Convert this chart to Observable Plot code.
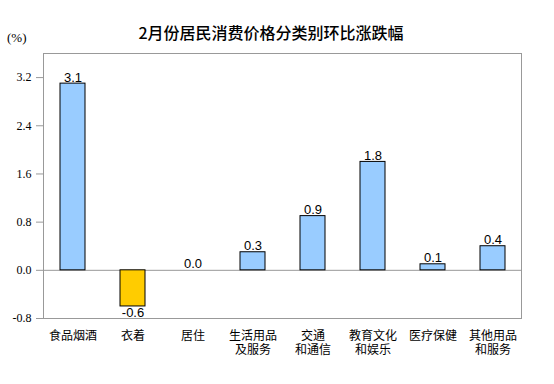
<!DOCTYPE html>
<html><head><meta charset="utf-8">
<script src="https://cdn.jsdelivr.net/npm/d3@7"></script>
<script src="https://cdn.jsdelivr.net/npm/@observablehq/plot@0.6"></script>
<style>
body{margin:0;background:#fff;}
#wrap{position:relative;width:554px;height:384px;}
#title{position:absolute;left:0;width:542px;top:20px;line-height:18px;text-align:center;font:500 16px "Noto Sans CJK SC",sans-serif;color:#000;}
#unit{position:absolute;left:7px;top:30px;line-height:15px;font:13px "Liberation Serif",serif;}
</style></head>
<body><div id="wrap"><div id="title">2月份居民消费价格分类别环比涨跌幅</div><div id="unit">(%)</div></div>
<script>
const categories = ["食品烟酒","衣着","居住","生活用品\n及服务","交通\n和通信","教育文化\n和娱乐","医疗保健","其他用品\n和服务"];
const values = [3.1,-0.6,0.0,0.3,0.9,1.8,0.1,0.4];
const yTicks = [-0.8,0.0,0.8,1.6,2.4,3.2];
const data = categories.map((c,i)=>({c, v: values[i]}));
const chart = Plot.plot({
  width:554, height:384,
  marginLeft:43, marginRight:33, marginTop:53, marginBottom:66,
  style:{fontFamily:"'Noto Sans CJK SC', sans-serif", fontSize:"12px", background:"#fff"},
  x:{domain:categories, paddingInner:0.59, paddingOuter:0.27, label:null},
  y:{domain:[-0.8,3.6], label:null},
  marks:[
    Plot.frame({stroke:"#999"}),
    Plot.axisY({ticks:yTicks, tickFormat:d=>d.toFixed(1), tickSize:7, tickPadding:5, stroke:"#999", fontFamily:"'Liberation Serif', serif", fontSize:12, fill:"#000"}),
    Plot.axisX({tickSize:0, tickPadding:12, fontSize:12, lineHeight:1.13, fill:"#000"}),
    Plot.ruleY([0],{stroke:"#999"}),
    Plot.barY(data,{x:"c", y:"v", fill:d=>d.v<0?"#FFCC00":"#99CCFF", stroke:"#000", strokeWidth:1}),
    Plot.text(data,{x:"c", y:"v", text:d=>d.v.toFixed(1), lineAnchor:"bottom", dy:-2, fontFamily:"'Liberation Sans', Arial, sans-serif", fontSize:13, fill:"#000", filter:d=>d.v>=0}),
    Plot.text(data,{x:"c", y:"v", text:d=>d.v.toFixed(1), lineAnchor:"top", dy:1, fontFamily:"'Liberation Sans', Arial, sans-serif", fontSize:13, fill:"#000", filter:d=>d.v<0})
  ]
});
document.getElementById("wrap").prepend(chart);
chart.style.position="absolute";chart.style.left="0";chart.style.top="0";
</script></body></html>
